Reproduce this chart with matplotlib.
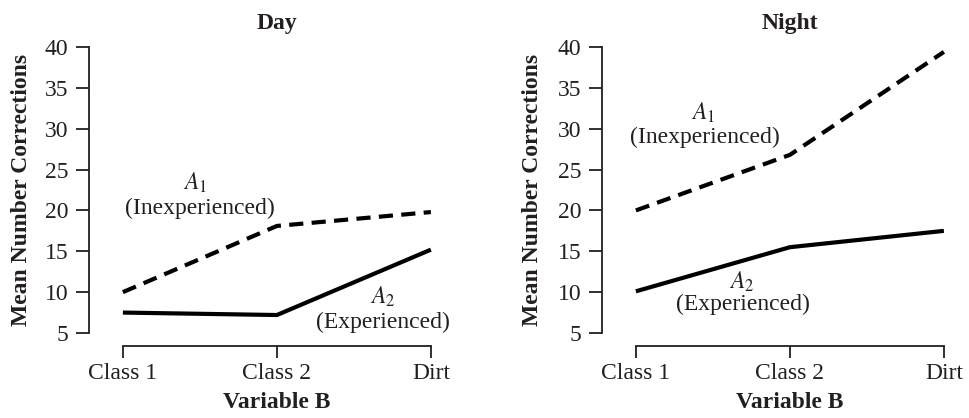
import matplotlib
matplotlib.use("Agg")
import matplotlib.pyplot as plt

plt.rcParams['font.family'] = ['Liberation Serif', 'DejaVu Serif']
plt.rcParams['mathtext.fontset'] = 'stix'

categories = ["Class 1", "Class 2", "Dirt"]
day_a1 = [10.0, 18.1, 19.8]
day_a2 = [7.5, 7.2, 15.2]
night_a1 = [20.0, 26.8, 39.4]
night_a2 = [10.1, 15.5, 17.5]
yticks = [5, 10, 15, 20, 25, 30, 35, 40]
titles = ["Day", "Night"]

INK = '#231f20'
W, H = 969, 418
fig = plt.figure(figsize=(W / 100, H / 100), dpi=100)

xlim = (-0.22, 2.10)
px_per_unit = 154
ax_w = (xlim[1] - xlim[0]) * px_per_unit
bottom_px, top_px = 333, 47
ax_h = bottom_px - top_px
lefts = [89, 602]
axes = []
for lp in lefts:
    ax = fig.add_axes([lp / W, (H - bottom_px) / H, ax_w / W, ax_h / H])
    axes.append(ax)

FS = 17
series = [(day_a1, day_a2), (night_a1, night_a2)]
xs = list(range(len(categories)))
xc = (1 - xlim[0]) / (xlim[1] - xlim[0])
for ax, (a1, a2), title in zip(axes, series, titles):
    ax.plot(xs, a1, color='black', lw=3, dashes=(3.4, 2.0), solid_capstyle='butt', dash_capstyle='butt', clip_on=False)
    ax.plot(xs, a2, color='black', lw=3, solid_capstyle='butt', clip_on=False)
    ax.set_xlim(*xlim)
    ax.set_ylim(5, 40)
    ax.set_xticks(xs)
    ax.set_xticklabels(categories)
    ax.set_yticks(yticks)
    for s in ['top', 'right']:
        ax.spines[s].set_visible(False)
    ax.spines['left'].set_bounds(5, 40)
    ax.spines['bottom'].set_bounds(0, 2)
    ax.spines['bottom'].set_position(('outward', 9))
    for s in ['left', 'bottom']:
        ax.spines[s].set_linewidth(1.3)
        ax.spines[s].set_color(INK)
    ax.tick_params(axis='y', direction='out', length=9.5, width=1.3, pad=5.5, labelsize=FS, colors=INK)
    ax.tick_params(axis='x', direction='out', length=8.5, width=1.3, pad=4, labelsize=FS, colors=INK)
    ax.set_title(title, fontsize=FS, fontweight='bold', color=INK, x=xc, pad=13)
    ax.set_xlabel("Variable B", fontsize=FS, fontweight='bold', color=INK)
    ax.xaxis.set_label_coords(xc, -0.205)
    ax.set_ylabel("Mean Number Corrections", fontsize=FS, fontweight='bold', color=INK)
    ax.patch.set_visible(False)

axes[0].yaxis.set_label_coords(-57 / ax_w, 0.5)
axes[1].yaxis.set_label_coords(-59 / ax_w, 0.5)

kw = dict(ha='center', va='center', fontsize=FS, color=INK)
ax = axes[0]
ax.text(0.47, 23.4, r"$A_1$", **kw)
ax.text(0.50, 20.2, "(Inexperienced)", **kw)
ax.text(1.69, 9.4, r"$A_2$", **kw)
ax.text(1.69, 6.35, "(Experienced)", **kw)
ax = axes[1]
ax.text(0.435, 31.9, r"$A_1$", **kw)
ax.text(0.45, 28.9, "(Inexperienced)", **kw)
ax.text(0.69, 11.2, r"$A_2$", **kw)
ax.text(0.695, 8.55, "(Experienced)", **kw)

fig.savefig("out.png", dpi=100, facecolor='white')
